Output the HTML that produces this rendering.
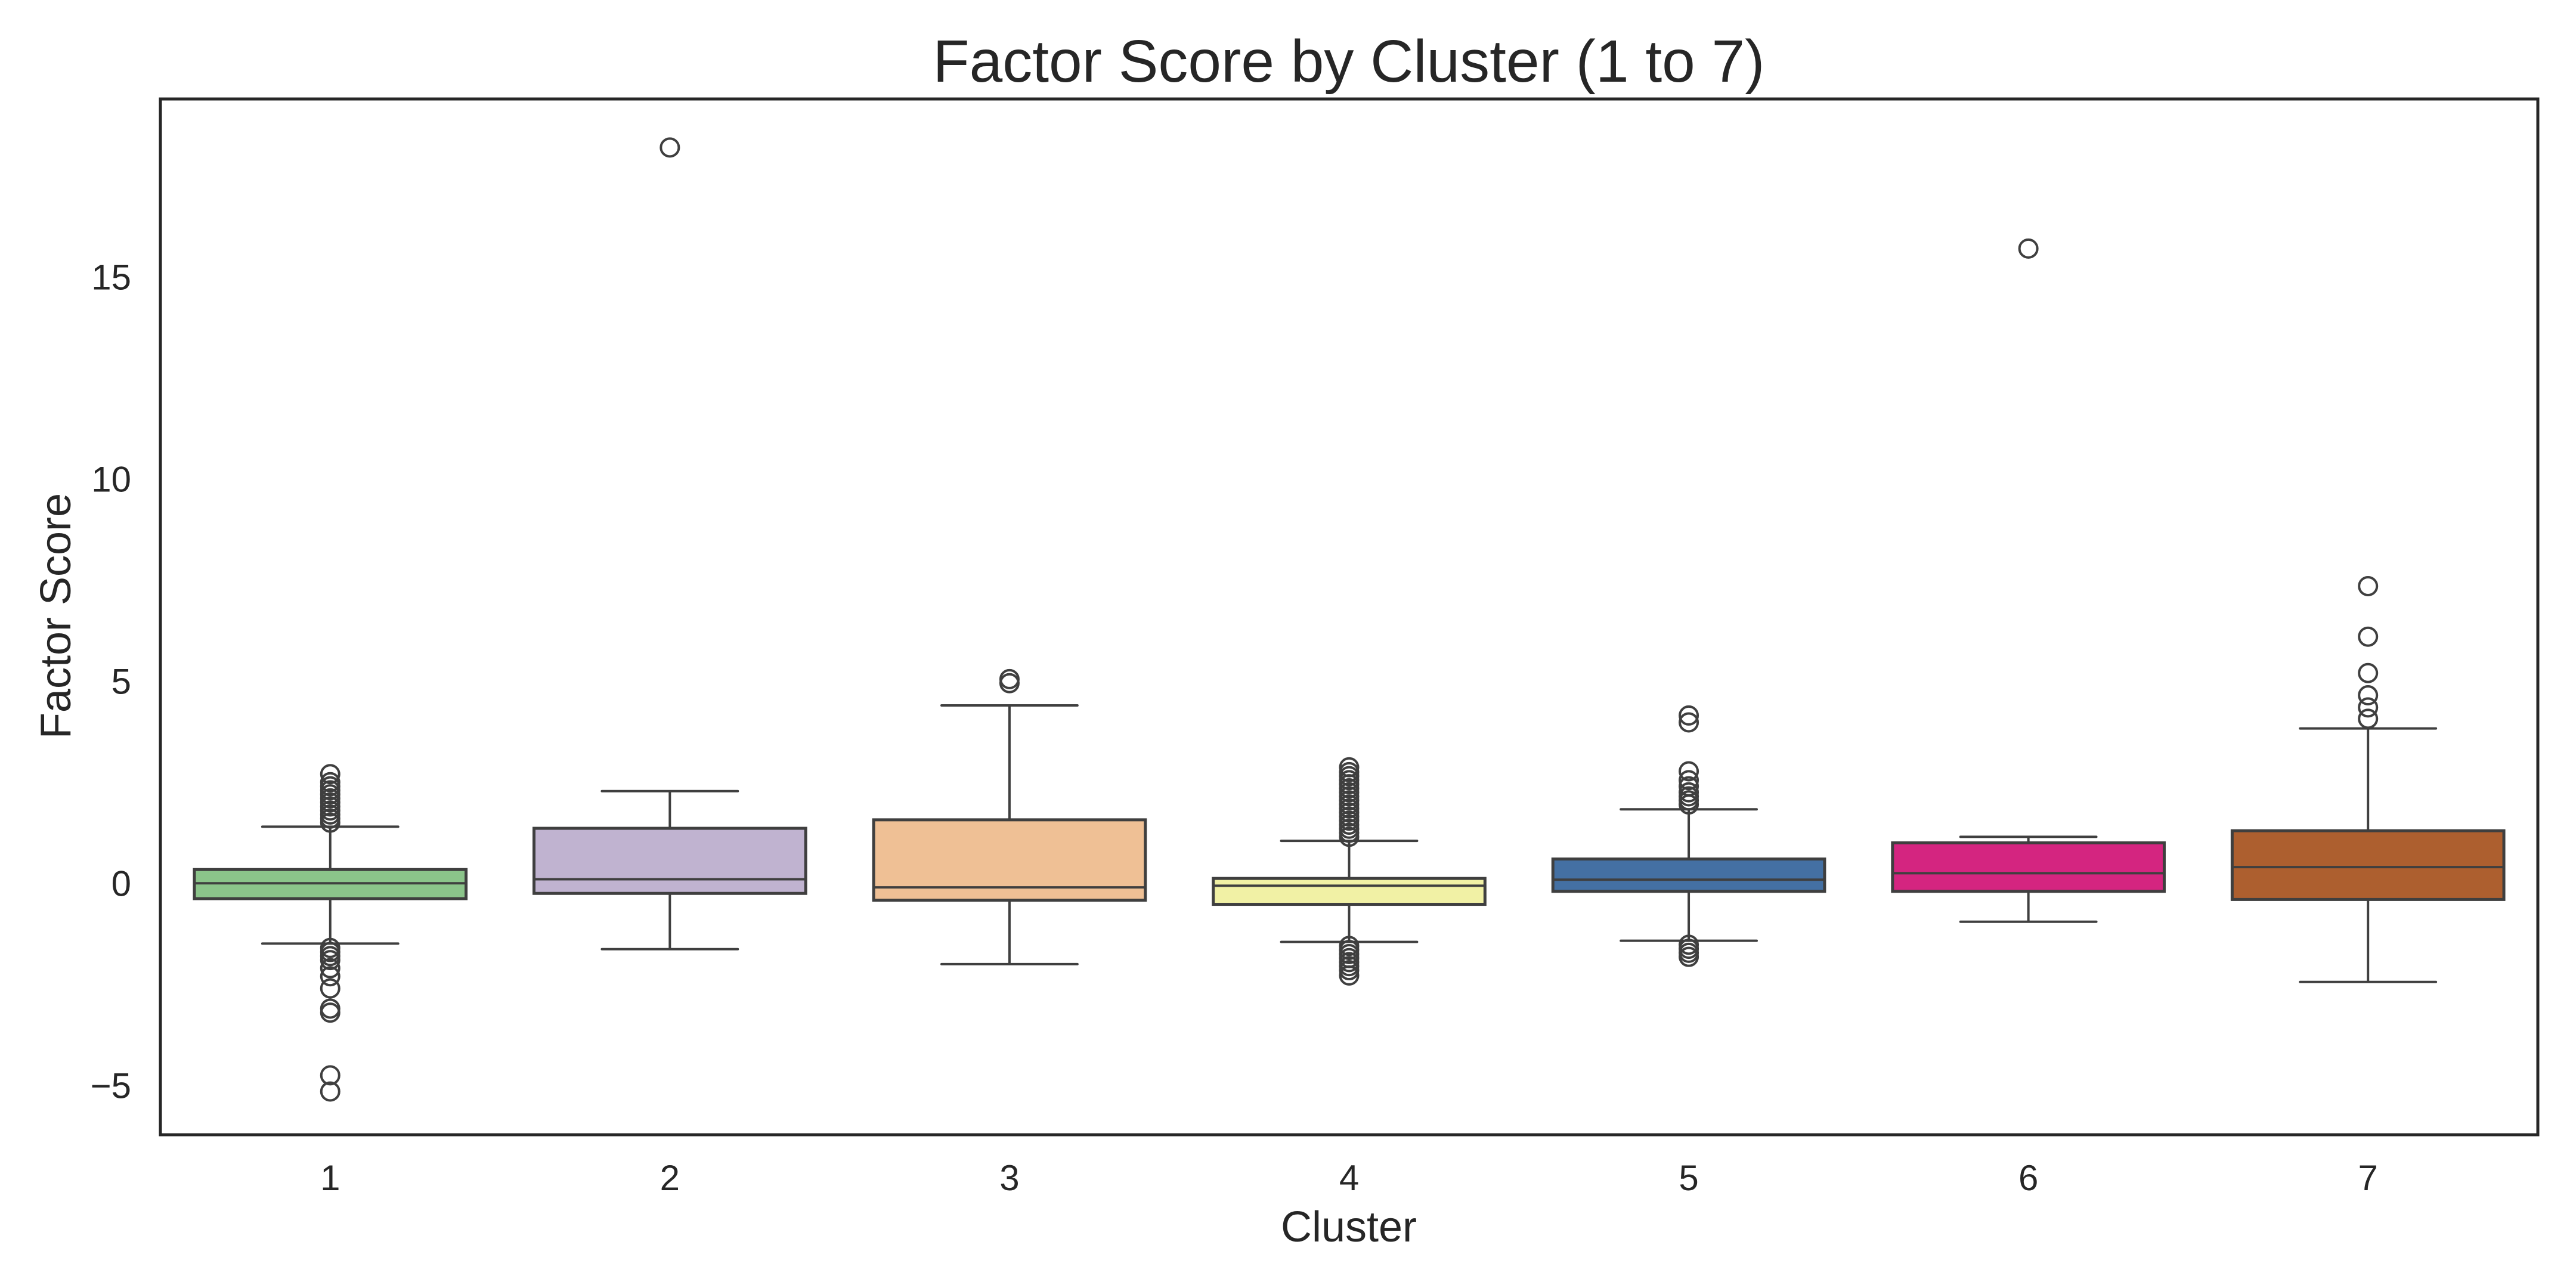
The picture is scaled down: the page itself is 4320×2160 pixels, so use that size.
<!DOCTYPE html>
<html><head><meta charset="utf-8"><style>
html,body{margin:0;padding:0;background:#fff;}
svg{display:block;}
text{font-family:"Liberation Sans",sans-serif;fill:#262626;}
</style></head><body>
<svg id="chart" width="4320" height="2160" viewBox="0 0 4320 2160" xmlns="http://www.w3.org/2000/svg">
<rect width="4320" height="2160" fill="#fff"/>
<text x="2262" y="137" font-size="100" text-anchor="middle">Factor Score by Cluster (1 to 7)</text>
<g id="boxes"></g>
<rect x="269" y="166" width="3987" height="1737" fill="none" stroke="#262626" stroke-width="5"/>
<g id="yticks"></g>
<g id="xticks"></g>
<text x="2262" y="2082" font-size="72" text-anchor="middle">Cluster</text>
<text x="0" y="0" font-size="72" text-anchor="middle" transform="translate(118,1033) rotate(-90)">Factor Score</text>
</svg>
<script>
const categories = ["1","2","3","4","5","6","7"];
const q1 = [-0.38,-0.25,-0.42,-0.52,-0.2,-0.2,-0.4];
const medians = [0.0,0.1,-0.1,-0.06,0.09,0.25,0.4];
const q3 = [0.34,1.36,1.57,0.12,0.6,1.0,1.3];
const whiskLo = [-1.49,-1.63,-2.0,-1.45,-1.42,-0.95,-2.44];
const whiskHi = [1.4,2.28,4.4,1.05,1.83,1.15,3.83];
const outliers = [
 [2.7,2.5,2.4,2.3,2.2,2.1,2.0,1.9,1.8,1.7,1.6,1.5,-1.6,-1.7,-1.8,-1.9,-2.1,-2.3,-2.6,-3.1,-3.2,-4.75,-5.15],
 [18.2],
 [5.05,4.95],
 [2.87,2.75,2.65,2.55,2.45,2.35,2.25,2.15,2.05,1.95,1.85,1.75,1.65,1.55,1.45,1.35,1.25,1.15,-1.55,-1.65,-1.75,-1.85,-1.95,-2.05,-2.15,-2.28],
 [4.15,3.98,2.77,2.55,2.4,2.25,2.15,2.05,1.95,-1.52,-1.62,-1.72,-1.82],
 [15.7],
 [7.35,6.1,5.2,4.65,4.35,4.07]
];
const yTicks = [-5,0,5,10,15];
const yTickLabels = ["\u22125","0","5","10","15"];
const colors = ["#8bc48a","#c0b3d0","#efc095","#f1f1a5","#4470a3","#d42580","#ad5f2f"];

const L=269,R=4256,T=166,B=1903, ymin=-6.22, ymax=19.4;
const NS="http://www.w3.org/2000/svg";
function yS(v){return B-(v-ymin)/(ymax-ymin)*(B-T);}
function xS(i){return L+(i+0.5)*(R-L)/categories.length;}
const step=(R-L)/categories.length;
function mk(tag,attrs,parent){const e=document.createElementNS(NS,tag);for(const k in attrs)e.setAttribute(k,attrs[k]);parent.appendChild(e);return e;}
const g=document.getElementById('boxes');
const lc="#3f3f3f";
categories.forEach((c,i)=>{
  const cx=xS(i), bw=step*0.8, cw=step*0.4;
  const grp=mk('g',{},g);
  
  
  const w1=mk('line',{x1:cx,x2:cx,y1:yS(q3[i]),y2:yS(whiskHi[i]),stroke:lc,'stroke-width':4},grp);
  
  
  const w2=mk('line',{x1:cx,x2:cx,y1:yS(q1[i]),y2:yS(whiskLo[i]),stroke:lc,'stroke-width':4},grp);
  
  
  const c1=mk('line',{x1:cx-cw/2,x2:cx+cw/2,y1:yS(whiskHi[i]),y2:yS(whiskHi[i]),stroke:lc,'stroke-width':4,'stroke-linecap':'round'},grp);
  
  
  const c2=mk('line',{x1:cx-cw/2,x2:cx+cw/2,y1:yS(whiskLo[i]),y2:yS(whiskLo[i]),stroke:lc,'stroke-width':4,'stroke-linecap':'round'},grp);
  
  
  const r=mk('rect',{x:cx-bw/2,y:yS(q3[i]),width:bw,height:yS(q1[i])-yS(q3[i]),fill:colors[i],stroke:lc,'stroke-width':5},grp);
  
  
  const m=mk('line',{x1:cx-bw/2,x2:cx+bw/2,y1:yS(medians[i]),y2:yS(medians[i]),stroke:lc,'stroke-width':4},grp);
  
  
  outliers[i].forEach(v=>{
    const o=mk('circle',{cx:cx,cy:yS(v),r:15,fill:'none',stroke:lc,'stroke-width':4},grp);
    
    
  });
});
const yg=document.getElementById('yticks');
yTicks.forEach((v,i)=>{
  const t=mk('text',{x:220,y:yS(v)+21,'font-size':60,'text-anchor':'end'},yg);
  t.textContent=yTickLabels[i];
  
  
});
const xg=document.getElementById('xticks');
categories.forEach((c,i)=>{
  const t=mk('text',{x:xS(i),y:1996,'font-size':60,'text-anchor':'middle'},xg);
  t.textContent=c;
  
  
});
</script>
</body></html>
